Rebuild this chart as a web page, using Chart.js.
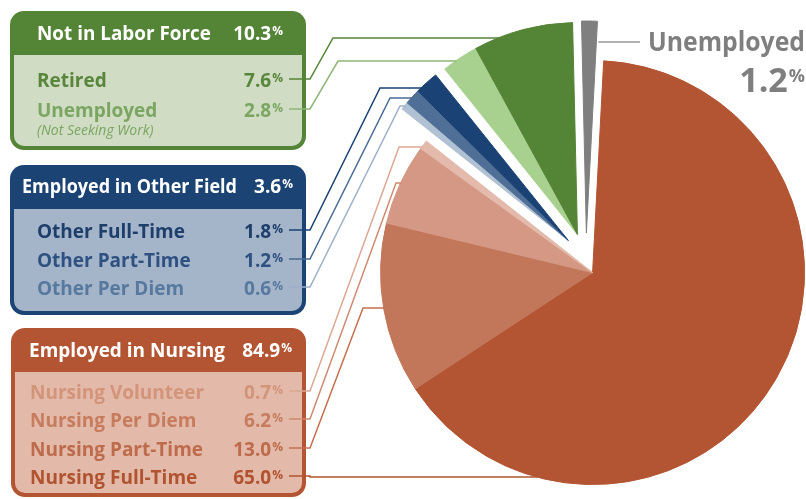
<!DOCTYPE html>
<html>
<head>
<meta charset="utf-8">
<script src="https://cdn.jsdelivr.net/npm/chart.js@4.4.0/dist/chart.umd.min.js"></script>
<style>
  html, body { margin: 0; padding: 0; background: #fff; }
  #wrap { width: 806px; height: 499px; }
</style>
</head>
<body>
<div id="wrap"><canvas id="statusPie" width="806" height="499"></canvas></div>
<script>
// === DATA ===
const sliceLabels = [
  "Nursing Full-Time", "Nursing Part-Time", "Nursing Per Diem", "Nursing Volunteer",
  "Other Per Diem", "Other Part-Time", "Other Full-Time",
  "Unemployed", "Retired", "Unemployed",
];
const sliceValues = [65.0, 13.0, 6.2, 0.7, 0.6, 1.2, 1.8, 2.8, 7.6, 1.2];
const sliceGroups = [2, 2, 2, 2, 1, 1, 1, 0, 0, 3]; // 0 = not in labor force, 1 = other field, 2 = nursing, 3 = unemployed
const sliceColors = [
  "#b35432", "#c3775a", "#d49884", "#e3baab",
  "#b1c1d4", "#4f6f96", "#1a4274",
  "#a8d18f", "#548436", "#7f7f7f",
];
const groupNames = ["Not in Labor Force", "Employed in Other Field", "Employed in Nursing"];
const groupTotals = [10.3, 3.6, 84.9];
const boxRows = [[8, 7], [6, 5, 4], [3, 2, 1, 0]]; // slice index per row in each box

// === STYLE / LAYOUT ===
const F = '"Open Sans", "DejaVu Sans", sans-serif';
const explode = [25, 25, 16, 25]; // px per group
const boxStyle = [
  { x: 10, y: 11, w: 296, h: 139, head: 44, color: "#548436", body: "#d0dcc4",
    titleX: 37, titleBase: 40, titleW: 174, totalRight: 283, rowX: 37, rowBase: [87, 117],
    rowColors: ["#58863a", "#7aa661"] },
  { x: 10, y: 165, w: 296, h: 150, head: 44, color: "#1b4373", body: "#a4b4c9",
    titleX: 22, titleBase: 193, titleW: 215, totalRight: 293, rowX: 37, rowBase: [238, 267, 295],
    rowColors: ["#1e3f6b", "#2e5181", "#58799f"] },
  { x: 11, y: 328, w: 295, h: 169, head: 44, color: "#b35432", body: "#e3b9aa",
    titleX: 29, titleBase: 357, titleW: 196, totalRight: 292, rowX: 30, rowBase: [399, 427, 456, 484],
    rowColors: ["#d39479", "#c77c5e", "#bd6b4a", "#b0532f"] },
];
// leader lines: horizontal level near the slice and knee x
const leaders = {
  8: { level: 38, knee: 333, color: "#548436" },
  7: { level: 61, knee: 338, color: "#8db677" },
  6: { level: 88, knee: 380, color: "#1a4274" },
  5: { level: 98, knee: 390, color: "#4a6b94" },
  4: { level: 106, knee: 400, color: "#9db0c8" },
  3: { level: 147, knee: 399, color: "#dca894" },
  2: { level: 183, knee: 396, color: "#cf8b72" },
  1: { level: 308, knee: 363, color: "#c4704f" },
  0: { level: 477, knee: 310, color: "#b35432" },
};

function groupShift(meta, g) {
  let s = Infinity, e = -Infinity;
  meta.data.forEach((arc, i) => {
    if (sliceGroups[i] === g) {
      s = Math.min(s, arc.startAngle);
      e = Math.max(e, arc.endAngle);
    }
  });
  const mid = (s + e) / 2;
  return { dx: Math.cos(mid) * explode[g], dy: Math.sin(mid) * explode[g] };
}

const explodeGroups = {
  id: "explodeGroups",
  beforeDatasetsDraw(chart) {
    const meta = chart.getDatasetMeta(0);
    const ca = chart.chartArea;
    const cx = (ca.left + ca.right) / 2;
    const cy = (ca.top + ca.bottom) / 2;
    const shifts = explode.map((_, g) => groupShift(meta, g));
    meta.data.forEach((arc, i) => {
      const s = shifts[sliceGroups[i]];
      arc.x = cx + s.dx;
      arc.y = cy + s.dy;
    });
  },
};

function roundRect(ctx, x, y, w, h, r) {
  ctx.beginPath();
  ctx.moveTo(x + r, y);
  ctx.arcTo(x + w, y, x + w, y + h, r);
  ctx.arcTo(x + w, y + h, x, y + h, r);
  ctx.arcTo(x, y + h, x, y, r);
  ctx.arcTo(x, y, x + w, y, r);
  ctx.closePath();
}

function drawPct(ctx, value, right, base, size, pctSize, raise, color) {
  ctx.fillStyle = color;
  ctx.textAlign = "right";
  ctx.textBaseline = "alphabetic";
  ctx.font = `bold ${pctSize}px ${F}`;
  const pw = ctx.measureText("%").width;
  ctx.fillText("%", right, base - raise);
  ctx.font = `bold ${size}px ${F}`;
  ctx.fillText(value.toFixed(1), right - pw - 1, base);
}

const callouts = {
  id: "callouts",
  afterDatasetsDraw(chart) {
    const ctx = chart.ctx;
    const meta = chart.getDatasetMeta(0);
    ctx.save();

    // === BOXES ===
    boxStyle.forEach((b, g) => {
      ctx.fillStyle = b.color;
      roundRect(ctx, b.x, b.y, b.w, b.h, 14);
      ctx.fill();
      ctx.fillStyle = b.body;
      roundRect(ctx, b.x + 4, b.y + b.head, b.w - 8, b.h - b.head - 4, 10);
      ctx.fill();
      ctx.fillRect(b.x + 4, b.y + b.head, b.w - 8, 10);

      ctx.fillStyle = "#fff";
      ctx.textAlign = "left";
      ctx.font = `bold 19px ${F}`;
      ctx.fillText(groupNames[g], b.titleX, b.titleBase, b.titleW);
      drawPct(ctx, groupTotals[g], b.totalRight, b.titleBase, 19, 12, 5, "#fff");

      boxRows[g].forEach((si, r) => {
        const base = b.rowBase[r];
        ctx.fillStyle = b.rowColors[r];
        ctx.textAlign = "left";
        ctx.font = `bold 19px ${F}`;
        ctx.fillText(sliceLabels[si], b.rowX, base);
        drawPct(ctx, sliceValues[si], 283, base, 19, 12, 5, b.rowColors[r]);
        if (si === 7) {
          ctx.textAlign = "left";
          ctx.font = `italic 14px ${F}`;
          ctx.fillText("(Not Seeking Work)", b.rowX, base + 18, 121);
        }
      });
    });

    // === LEADER LINES ===
    ctx.lineWidth = 1.5;
    boxStyle.forEach((b, g) => {
      boxRows[g].forEach((si, r) => {
        const L = leaders[si];
        const arc = meta.data[si];
        const y0 = b.rowBase[r] - 8;
        const dy = L.level - arc.y;
        const endX = arc.x - Math.sqrt(Math.max(arc.outerRadius ** 2 - dy * dy, 0));
        ctx.strokeStyle = L.color;
        ctx.beginPath();
        ctx.moveTo(289, y0);
        ctx.lineTo(310, y0);
        ctx.lineTo(L.knee, L.level);
        ctx.lineTo(endX + 1, L.level);
        ctx.stroke();
      });
    });

    // === UNEMPLOYED CALLOUT ===
    const u = meta.data[9];
    const lineY = 42;
    const t = (lineY - u.y) / Math.sin(u.endAngle);
    const sx = u.x + t * Math.cos(u.endAngle);
    ctx.strokeStyle = "#9a9a9a";
    ctx.beginPath();
    ctx.moveTo(sx + 2, lineY);
    ctx.lineTo(640, lineY);
    ctx.stroke();
    ctx.fillStyle = "#7f7f7f";
    ctx.textAlign = "right";
    ctx.font = `bold 26px ${F}`;
    ctx.fillText(sliceLabels[9], 805, 51, 157);
    drawPct(ctx, sliceValues[9], 805, 92, 34, 18, 10, "#7f7f7f");

    ctx.restore();
  },
};

new Chart(document.getElementById("statusPie"), {
  type: "pie",
  data: {
    labels: sliceLabels,
    datasets: [
      {
        data: sliceValues,
        backgroundColor: sliceColors,
        borderColor: sliceColors,
        borderWidth: 1,
      },
    ],
  },
  options: {
    responsive: false,
    animation: false,
    events: [],
    rotation: 3,
    radius: 212,
    layout: { padding: { left: 366, top: 17, right: 0, bottom: 0 } },
    plugins: {
      legend: { display: false },
      tooltip: { enabled: false },
    },
  },
  plugins: [explodeGroups, callouts],
});
</script>
</body>
</html>
